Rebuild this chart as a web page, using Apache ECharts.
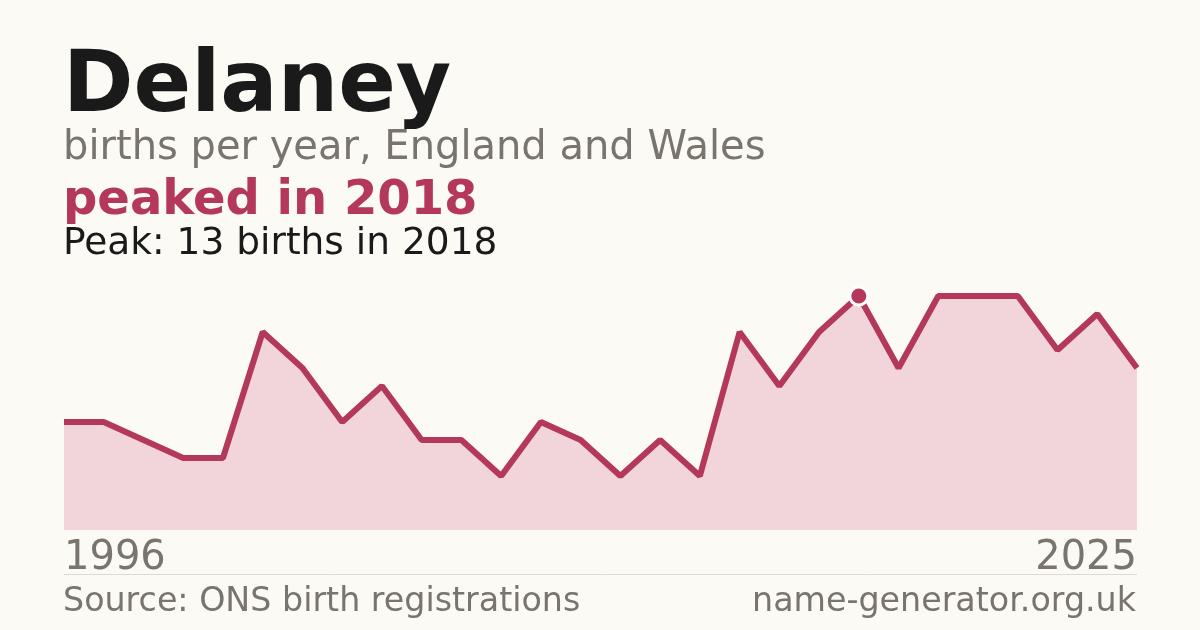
<!DOCTYPE html>
<html>
<head>
<meta charset="utf-8">
<script src="https://cdn.jsdelivr.net/npm/echarts@6/dist/echarts.min.js"></script>
<style>
  html, body { margin: 0; padding: 0; background: #fbfaf5; }
  #chart { width: 1200px; height: 630px; }
</style>
</head>
<body>
<div id="chart"></div>
<script>
// data (some years have no registrations shown)
var years = ['1996', '1997', '1998', '1999', '2000', '2001', '2002', '2003', '2004', '2005',
             '2006', '2007', '2008', '2009', '2011', '2012', '2013', '2014', '2015', '2017',
             '2018', '2019', '2020', '2021', '2022', '2023', '2024', '2025'];
var births = [6, 6, 5, 4, 4, 11, 9, 6, 8, 5,
              5, 3, 6, 5, 3, 5, 3, 11, 8, 11,
              13, 9, 13, 13, 13, 10, 12, 9];
var peakYear = '2018';
var peakValue = 13;

var red = '#b3385a';
var grey = '#79746c';
var dark = '#1a1a1a';
var font = 'DejaVu Sans';

var myChart = echarts.init(document.getElementById('chart'));

var option = {
    backgroundColor: '#fbfaf5',
    animation: false,
    title: [
        { text: 'Delaney', left: 63, top: 46, padding: 0,
          textStyle: { fontFamily: font, fontSize: 85, fontWeight: 'bold', color: dark } },
        { text: 'births per year, England and Wales', left: 63, top: 129, padding: 0,
          textStyle: { fontFamily: font, fontSize: 40, fontWeight: 'normal', color: grey } },
        { text: 'peaked in ' + peakYear, left: 63, top: 178, padding: 0,
          textStyle: { fontFamily: font, fontSize: 48, fontWeight: 'bold', color: red } },
        { text: 'Peak: ' + peakValue + ' births in ' + peakYear, left: 63, top: 225, padding: 0,
          textStyle: { fontFamily: font, fontSize: 37.5, fontWeight: 'normal', color: dark } },
        { text: 'Source: ONS birth registrations', left: 63, top: 586, padding: 0,
          textStyle: { fontFamily: font, fontSize: 33.3, fontWeight: 'normal', color: grey } },
        { text: 'name-generator.org.uk', right: 64, top: 586, padding: 0,
          textStyle: { fontFamily: font, fontSize: 33.3, fontWeight: 'normal', color: grey } }
    ],
    grid: { left: 64, right: 63, top: 296, bottom: 100 },
    xAxis: {
        type: 'category',
        boundaryGap: false,
        data: years,
        axisLine: { show: false },
        axisTick: { show: false },
        axisLabel: {
            interval: function (i) { return i === 0 || i === years.length - 1; },
            alignMinLabel: 'left',
            alignMaxLabel: 'right',
            margin: 9,
            fontFamily: font,
            fontSize: 40,
            color: grey
        }
    },
    yAxis: {
        type: 'value',
        min: 0,
        max: peakValue,
        show: false,
        splitLine: { show: false }
    },
    graphic: [
        { type: 'line', shape: { x1: 64, y1: 574.5, x2: 1137, y2: 574.5 },
          style: { stroke: '#dddad2', lineWidth: 1 } }
    ],
    series: [
        {
            type: 'line',
            data: births,
            symbol: 'none',
            lineStyle: { color: red, width: 6 },
            areaStyle: { color: '#f2d5db', opacity: 1 },
            clip: false,
            markPoint: {
                symbol: 'circle',
                symbolSize: 18,
                itemStyle: { color: red, borderColor: '#ffffff', borderWidth: 3 },
                label: { show: false },
                data: [{ coord: [peakYear, peakValue] }]
            }
        }
    ]
};
myChart.setOption(option);
</script>
</body>
</html>
